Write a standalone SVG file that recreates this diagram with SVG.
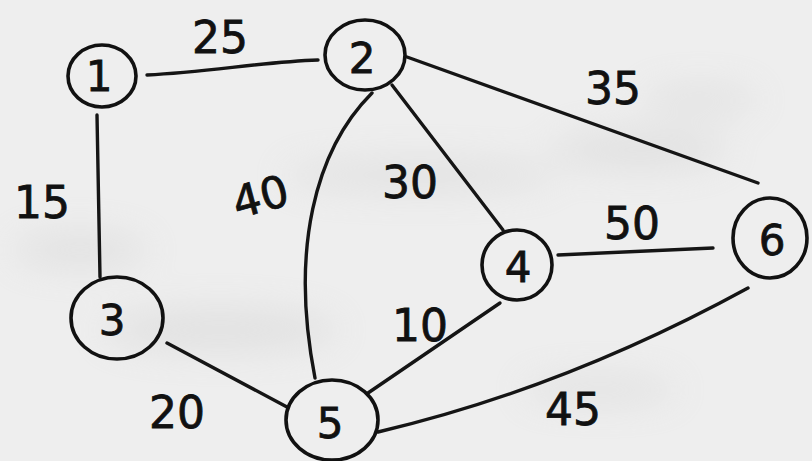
<svg xmlns="http://www.w3.org/2000/svg" width="812" height="461" viewBox="0 0 812 461">
<defs>
<filter id="blur" x="-50%" y="-50%" width="200%" height="200%"><feGaussianBlur stdDeviation="18"/></filter>
<style>
.node{fill:none;stroke:#111;stroke-width:3.6}
.edge{fill:none;stroke:#151515;stroke-width:3.4;stroke-linecap:round}
.lbl{font-family:"DejaVu Sans","Liberation Sans",sans-serif;font-size:44px;fill:#111;stroke:#111;stroke-width:0.8;text-anchor:middle}
.num{font-family:"DejaVu Sans","Liberation Sans",sans-serif;font-size:42px;fill:#111;stroke:#111;stroke-width:0.8;text-anchor:middle}
</style>
</defs>
<rect width="812" height="461" fill="#eeeeee"/>
<g filter="url(#blur)" fill="#d2d2d2" opacity="0.45">
<ellipse cx="640" cy="150" rx="90" ry="20"/>
<ellipse cx="420" cy="175" rx="140" ry="16"/>
<ellipse cx="220" cy="330" rx="120" ry="22"/>
<ellipse cx="700" cy="100" rx="60" ry="14"/>
<ellipse cx="80" cy="250" rx="70" ry="18"/>
<ellipse cx="600" cy="390" rx="80" ry="14"/>
</g>
<g id="connectors">
<path class="edge" d="M147,75 C210,72 260,62 318,60"/>
<path class="edge" d="M97,115 L100,277"/>
<path class="edge" d="M407,57 L758,183"/>
<path class="edge" d="M392,85 L503,230"/>
<path class="edge" d="M372,93 C315,150 290,250 315,378"/>
<path class="edge" d="M558,255 L713,248"/>
<path class="edge" d="M500,303 L368,393"/>
<path class="edge" d="M167,343 L287,407"/>
<path class="edge" d="M378,432 Q565,388 748,288"/>
</g>
<g id="edge-labels">
<text class="lbl" x="220" y="53">25</text>
<text class="lbl" x="42" y="218">15</text>
<text class="lbl" x="260" y="212" transform="rotate(-15 260 195)">40</text>
<text class="lbl" x="410" y="198">30</text>
<text class="lbl" x="613" y="104">35</text>
<text class="lbl" x="632" y="239">50</text>
<text class="lbl" x="420" y="341">10</text>
<text class="lbl" x="177" y="428">20</text>
<text class="lbl" x="573" y="425">45</text>
</g>
<g id="node1"><ellipse class="node" cx="102" cy="76" rx="34" ry="31"/><text class="num" x="99" y="91">1</text></g>
<g id="node2"><ellipse class="node" cx="365" cy="55" rx="40" ry="35"/><text class="num" x="362" y="73">2</text></g>
<g id="node3"><ellipse class="node" cx="117" cy="318" rx="46" ry="41"/><text class="num" x="112" y="335">3</text></g>
<g id="node4"><ellipse class="node" cx="517" cy="265" rx="35" ry="35"/><text class="num" x="518" y="282">4</text></g>
<g id="node5"><ellipse class="node" cx="332" cy="420" rx="46" ry="40"/><text class="num" x="330" y="438">5</text></g>
<g id="node6"><ellipse class="node" cx="770" cy="238" rx="37" ry="40"/><text class="num" x="772" y="255">6</text></g>
</svg>
